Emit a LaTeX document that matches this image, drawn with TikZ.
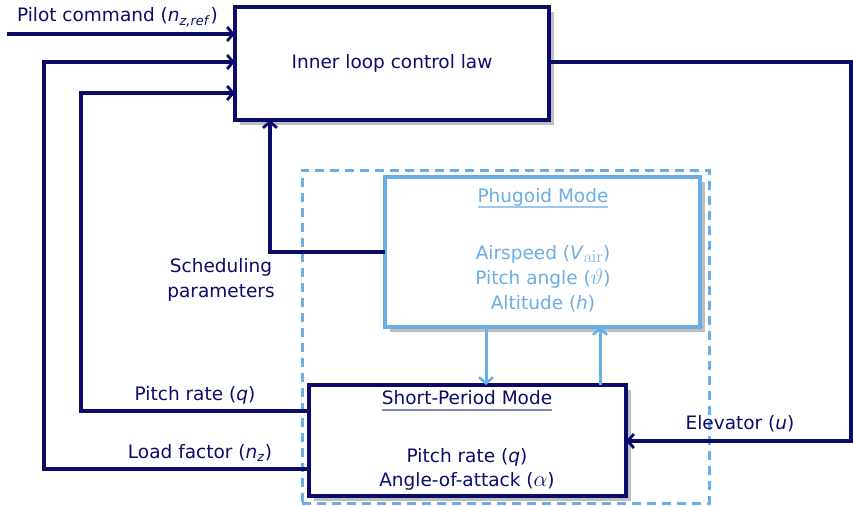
\RequirePackage{fix-cm}
\documentclass[tikz,border=0pt]{standalone}
\usepackage[no-math]{fontspec}
\setmainfont{DejaVu Sans}
\usetikzlibrary{arrows.meta,shadows}
\definecolor{navy}{HTML}{0B0B6B}
\definecolor{lblue}{HTML}{6AAEE6}
\definecolor{shade}{HTML}{BEBEBE}
\definecolor{ulnavy}{HTML}{8585B8}
\definecolor{ulblue}{HTML}{9CC8EE}
\newcommand\bigmath[1]{{\fontsize{22}{24}\selectfont\ensuremath{#1}}}
\newcommand\subair{{\fontsize{25}{26}\selectfont\ensuremath{_\mathrm{air}}}}
\begin{document}
\begin{tikzpicture}[x=1pt,y=-1pt,
  font=\fontsize{18.5}{22}\selectfont,
  every node/.style={inner sep=0pt, outer sep=0pt},
  box/.style={draw=#1, line width=3.2pt, fill=white, anchor=north west,
    drop shadow={shadow xshift=4.5pt, shadow yshift=-4.5pt, fill=shade, opacity=1}},
  arr/.style={draw=navy, line width=3.2pt, -{Straight Barb[length=6pt,width=14pt,line width=2.8pt]}},
  larr/.style={draw=lblue, line width=3pt, -{Straight Barb[length=6pt,width=14pt,line width=2.6pt]}},
  nlab/.style={text=navy},
  blab/.style={text=lblue}
]
\useasboundingbox (0,0) rectangle (853,506);

% dashed group
\node[draw=lblue, line width=3pt, dash pattern=on 9pt off 6pt, anchor=north west,
  minimum width=407pt, minimum height=333pt] (grp) at (302,170) {};

% boxes
\node[box=navy, minimum width=314pt, minimum height=113pt] (inner) at (235,7) {};
\node[box=lblue, minimum width=315pt, minimum height=150pt] (ph) at (385,177) {};
\node[box=navy, minimum width=317pt, minimum height=111pt] (sp) at (309,385) {};

% texts
\node[nlab] (innert) at (392,63) {Inner loop control law};
\node[nlab, anchor=west] (pilot) at (17,17) {Pilot command (\textit{n}\textsubscript{\textit{z,ref}})};
\node[nlab, align=center] (sched) at (221,280) {Scheduling\\[3pt]parameters};
\node[nlab] (prl) at (195,395) {Pitch rate (\textit{q})};
\node[nlab] (lfl) at (200,453) {Load factor (\textit{n}\textsubscript{\textit{z}})};
\node[nlab] (elev) at (740,424) {Elevator (\textit{u})};

\node[blab] (pht) at (543,197) {Phugoid Mode};
\draw[ulblue, line width=1.4pt] ([yshift=-5pt]pht.base west) -- ([yshift=-5pt]pht.base east);
\node[blab] (air) at (543,254) {Airspeed (\textit{V}\subair)};
\node[blab] (pang) at (543,279) {Pitch angle (\bigmath{\vartheta})};
\node[blab] (alt) at (543,304) {Altitude (\textit{h})};

\node[nlab] (spt) at (467,398) {Short-Period Mode};
\draw[ulnavy, line width=1.4pt] ([yshift=-5pt]spt.base west) -- ([yshift=-5pt]spt.base east);
\node[nlab] (spq) at (467,457) {Pitch rate (\textit{q})};
\node[nlab] (spa) at (467,481) {Angle-of-attack (\bigmath{\alpha})};

% coordinates
\coordinate (pin) at (7,34);
\coordinate (lf) at (44,469);
\coordinate (lftop) at (44,62);
\coordinate (pr) at (81,411);
\coordinate (prtop) at (81,93);
\coordinate (sx) at (270,252);
\coordinate (er) at (851,62);
\coordinate (eb) at (851,441);
\coordinate (d1) at (486,0);
\coordinate (d2) at (600,0);

% navy connectors
\draw[arr] (pin) -- (inner.west |- pin);
\draw[arr] (sp.west |- lf) -- (lf) -- (lftop) -- (inner.west |- lftop);
\draw[arr] (sp.west |- pr) -- (pr) -- (prtop) -- (inner.west |- prtop);
\draw[arr] (ph.west |- sx) -- (sx) -- (sx |- inner.south);
\draw[arr] (inner.east |- er) -- (er) -- (eb) -- (sp.east |- eb);

% light blue connectors
\draw[larr] (ph.south -| d1) -- (sp.north -| d1);
\draw[larr] (sp.north -| d2) -- (ph.south -| d2);
\end{tikzpicture}
\end{document}
